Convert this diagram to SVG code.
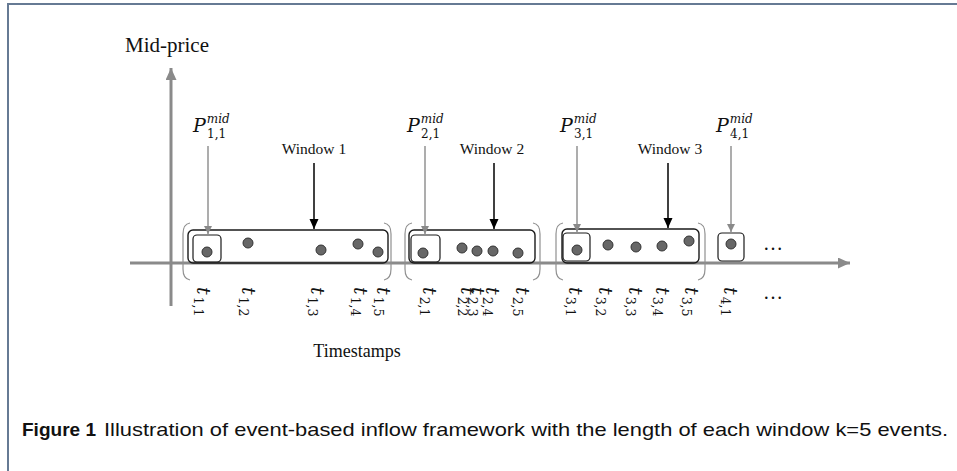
<svg xmlns="http://www.w3.org/2000/svg" width="957" height="471" viewBox="0 0 957 471">
<defs>
<marker id="ga" markerWidth="10" markerHeight="10" refX="8" refY="4.5" orient="auto" markerUnits="userSpaceOnUse"><path d="M0,0.5 L8,4.5 L0,8.5 z" fill="#8a8a8a"/></marker>
<marker id="ba" markerWidth="12" markerHeight="10" refX="10" refY="4.5" orient="auto" markerUnits="userSpaceOnUse"><path d="M0,0 L10,4.5 L0,9 z" fill="#000"/></marker>
<marker id="axa" markerWidth="14" markerHeight="12" refX="12" refY="5.5" orient="auto" markerUnits="userSpaceOnUse"><path d="M0,0 L12,5.5 L0,11 z" fill="#8a8a8a"/></marker>
</defs>
<style>
.ax{stroke:#8a8a8a;stroke-width:3;fill:none}
.win{fill:none;stroke:#1a1a1a;stroke-width:1.4}
.sb{fill:none;stroke:#1a1a1a;stroke-width:1.2}
.par{fill:none;stroke:#909090;stroke-width:1.2}
.dot{fill:#676767;stroke:#333;stroke-width:1}
.ser{font-family:"Liberation Serif",serif;fill:#111}
.mth{font-family:"DejaVu Serif","Liberation Serif",serif;fill:#111}
.it{font-style:italic}
.ga{stroke:#8a8a8a;stroke-width:1.4;marker-end:url(#ga)}
.bk{stroke:#000;stroke-width:1.5;marker-end:url(#ba)}
.cap{font-family:"Liberation Sans",sans-serif;font-size:19px;fill:#111}
.tl{font-size:19px}
.ts{font-size:12.5px}
.pl{font-size:19px}
.ps{font-size:12px}
</style>
<path d="M8,471 V4 H957" fill="none" stroke="#667a94" stroke-width="2"/>

<g id="axes">
<line class="ax" x1="171" y1="306" x2="171" y2="68" marker-end="url(#axa)"/>
<line class="ax" x1="130" y1="263" x2="850" y2="263" marker-end="url(#axa)"/>
<text class="ser" x="125" y="52" font-size="21">Mid-price</text>
<text class="ser" x="357" y="357" font-size="18" text-anchor="middle">Timestamps</text>
</g>

<g id="window1">
<path class="par" d="M190,223 Q183,224 183,234 V269 Q183,279 190,280"/>
<path class="par" d="M384,223 Q391,224 391,234 V269 Q391,279 384,280"/>
<rect class="win" x="188" y="230" width="200" height="33" rx="5"/>
<rect class="sb" x="193" y="235" width="28" height="27" rx="4"/>
<circle class="dot" cx="207" cy="252" r="5"/>
<circle class="dot" cx="248" cy="243" r="5"/>
<circle class="dot" cx="321" cy="250" r="5"/>
<circle class="dot" cx="358" cy="244" r="5"/>
<circle class="dot" cx="378" cy="252" r="5"/>
<text class="ser" x="314" y="154" font-size="15.5" text-anchor="middle">Window 1</text>
</g>

<g id="window2">
<path class="par" d="M412,223 Q405,224 405,234 V269 Q405,279 412,280"/>
<path class="par" d="M533,223 Q540,224 540,234 V269 Q540,279 533,280"/>
<rect class="win" x="409" y="230" width="126" height="33" rx="5"/>
<rect class="sb" x="411" y="235" width="29" height="27" rx="4"/>
<circle class="dot" cx="423" cy="253" r="5"/>
<circle class="dot" cx="462" cy="248" r="5"/>
<circle class="dot" cx="477" cy="251" r="5"/>
<circle class="dot" cx="493" cy="251" r="5"/>
<circle class="dot" cx="518" cy="253" r="5"/>
<text class="ser" x="492" y="154" font-size="15.5" text-anchor="middle">Window 2</text>
</g>

<g id="window3">
<path class="par" d="M563,223 Q556,224 556,234 V269 Q556,279 563,280"/>
<path class="par" d="M698,223 Q705,224 705,234 V269 Q705,279 698,280"/>
<rect class="win" x="562" y="229" width="137" height="34" rx="5"/>
<rect class="sb" x="563" y="233" width="27" height="28" rx="4"/>
<circle class="dot" cx="577" cy="250" r="5"/>
<circle class="dot" cx="608" cy="245" r="5"/>
<circle class="dot" cx="636" cy="247" r="5"/>
<circle class="dot" cx="662" cy="246" r="5"/>
<circle class="dot" cx="689" cy="241" r="5"/>
<text class="ser" x="670" y="154" font-size="15.5" text-anchor="middle">Window 3</text>
</g>

<g id="window4">
<rect class="sb" x="718" y="233" width="26" height="28" rx="4"/>
<circle class="dot" cx="731" cy="244" r="5"/>
<text class="ser" x="763" y="250" font-size="20">…</text>
<text class="ser" x="763" y="299" font-size="20">…</text>
</g>

<g id="price-labels" class="mth">
<text x="193" y="132"><tspan class="it pl">P</tspan><tspan class="it ps" dx="1" dy="-9">mid</tspan></text>
<text x="207" y="138" class="ps">1,1</text>
<text x="407" y="132"><tspan class="it pl">P</tspan><tspan class="it ps" dx="1" dy="-9">mid</tspan></text>
<text x="421" y="138" class="ps">2,1</text>
<text x="560" y="132"><tspan class="it pl">P</tspan><tspan class="it ps" dx="1" dy="-9">mid</tspan></text>
<text x="574" y="138" class="ps">3,1</text>
<text x="716" y="132"><tspan class="it pl">P</tspan><tspan class="it ps" dx="1" dy="-9">mid</tspan></text>
<text x="730" y="138" class="ps">4,1</text>
</g>

<g id="time-labels" class="mth">
<text transform="translate(197,287) rotate(90)"><tspan class="it tl">t</tspan><tspan class="ts" dx="2" dy="3">1,1</tspan></text>
<text transform="translate(242,287) rotate(90)"><tspan class="it tl">t</tspan><tspan class="ts" dx="2" dy="3">1,2</tspan></text>
<text transform="translate(311,287) rotate(90)"><tspan class="it tl">t</tspan><tspan class="ts" dx="2" dy="3">1,3</tspan></text>
<text transform="translate(354,287) rotate(90)"><tspan class="it tl">t</tspan><tspan class="ts" dx="2" dy="3">1,4</tspan></text>
<text transform="translate(377,287) rotate(90)"><tspan class="it tl">t</tspan><tspan class="ts" dx="2" dy="3">1,5</tspan></text>
<text transform="translate(423,287) rotate(90)"><tspan class="it tl">t</tspan><tspan class="ts" dx="2" dy="3">2,1</tspan></text>
<text transform="translate(461,287) rotate(90)"><tspan class="it tl">t</tspan><tspan class="ts" dx="2" dy="3">2,2</tspan></text>
<text transform="translate(471,287) rotate(90)"><tspan class="it tl">t</tspan><tspan class="ts" dx="2" dy="3">2,3</tspan></text>
<text transform="translate(486,287) rotate(90)"><tspan class="it tl">t</tspan><tspan class="ts" dx="2" dy="3">2,4</tspan></text>
<text transform="translate(516,287) rotate(90)"><tspan class="it tl">t</tspan><tspan class="ts" dx="2" dy="3">2,5</tspan></text>
<text transform="translate(569,287) rotate(90)"><tspan class="it tl">t</tspan><tspan class="ts" dx="2" dy="3">3,1</tspan></text>
<text transform="translate(599,287) rotate(90)"><tspan class="it tl">t</tspan><tspan class="ts" dx="2" dy="3">3,2</tspan></text>
<text transform="translate(629,287) rotate(90)"><tspan class="it tl">t</tspan><tspan class="ts" dx="2" dy="3">3,3</tspan></text>
<text transform="translate(656,287) rotate(90)"><tspan class="it tl">t</tspan><tspan class="ts" dx="2" dy="3">3,4</tspan></text>
<text transform="translate(685,287) rotate(90)"><tspan class="it tl">t</tspan><tspan class="ts" dx="2" dy="3">3,5</tspan></text>
<text transform="translate(724,287) rotate(90)"><tspan class="it tl">t</tspan><tspan class="ts" dx="2" dy="3">4,1</tspan></text>
</g>

<g id="connectors">
<line class="ga" x1="208" y1="146" x2="208" y2="234"/>
<line class="ga" x1="425" y1="146" x2="425" y2="234"/>
<line class="ga" x1="577" y1="146" x2="577" y2="232"/>
<line class="ga" x1="731" y1="146" x2="731" y2="232"/>
<line class="bk" x1="314" y1="163" x2="314" y2="229"/>
<line class="bk" x1="494" y1="163" x2="494" y2="229"/>
<line class="bk" x1="668" y1="163" x2="668" y2="228"/>
</g>

<g id="caption">
<text class="cap" x="22" y="436" font-weight="bold" textLength="74" lengthAdjust="spacingAndGlyphs">Figure 1</text>
<text class="cap" x="104" y="436" textLength="844" lengthAdjust="spacingAndGlyphs">Illustration of event-based inflow framework with the length of each window k=5 events.</text>
</g>
</svg>
